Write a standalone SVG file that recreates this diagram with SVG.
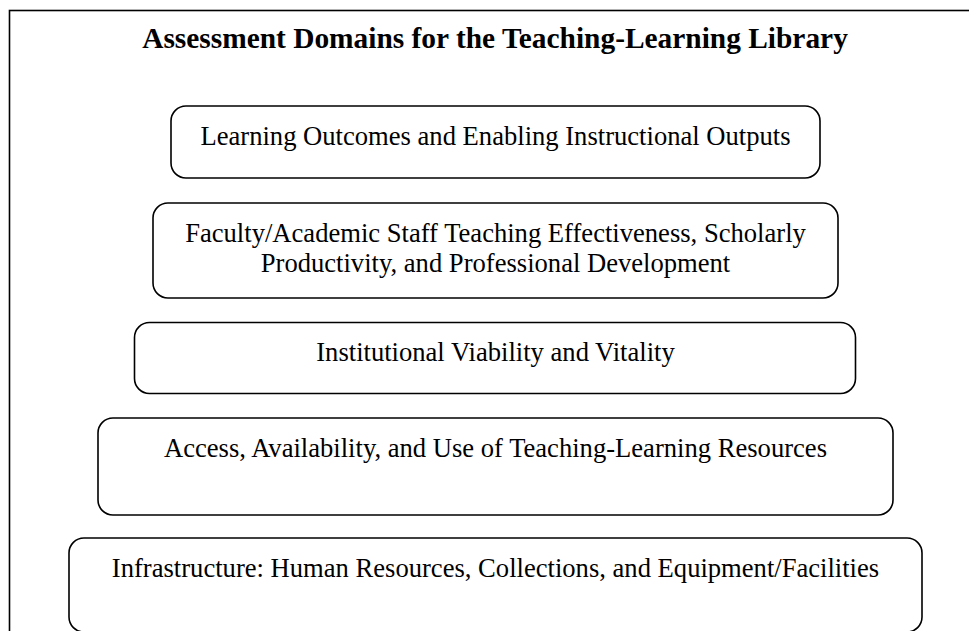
<svg xmlns="http://www.w3.org/2000/svg" width="969" height="631" viewBox="0 0 969 631">
  <style>
    .frame { fill: none; stroke: #000; stroke-width: 1.6; }
    .box { fill: #fff; stroke: #000; stroke-width: 1.6; }
    .title { font-family: "Liberation Serif", "Times New Roman", serif; font-size: 29.4px; font-weight: bold; fill: #000; text-anchor: middle; }
    .label { font-family: "Liberation Serif", "Times New Roman", serif; font-size: 26.6px; fill: #000; text-anchor: middle; }
  </style>
  <rect x="0" y="0" width="969" height="631" fill="#fff"/>
  <rect class="frame" x="9.5" y="10.5" width="990" height="700"/>
  <text class="title" x="495" y="48">Assessment Domains for the Teaching-Learning Library</text>
  <g id="node-outcomes">
    <rect class="box" x="171" y="106" width="649" height="72" rx="15" ry="15"/>
    <text class="label" x="495.5" y="145">Learning Outcomes and Enabling Instructional Outputs</text>
  </g>
  <g id="node-faculty">
    <rect class="box" x="153" y="203" width="685" height="95" rx="15" ry="15"/>
    <text class="label" x="495.5" y="242">Faculty/Academic Staff Teaching Effectiveness, Scholarly</text>
    <text class="label" x="495.5" y="272">Productivity, and Professional Development</text>
  </g>
  <g id="node-institutional">
    <rect class="box" x="134.5" y="322.5" width="721" height="71" rx="15" ry="15"/>
    <text class="label" x="495.5" y="361">Institutional Viability and Vitality</text>
  </g>
  <g id="node-access">
    <rect class="box" x="98" y="418" width="795" height="97" rx="15" ry="15"/>
    <text class="label" x="495.5" y="457">Access, Availability, and Use of Teaching-Learning Resources</text>
  </g>
  <g id="node-infrastructure">
    <rect class="box" x="69" y="538" width="853" height="94" rx="15" ry="15"/>
    <text class="label" x="495.5" y="577">Infrastructure: Human Resources, Collections, and Equipment/Facilities</text>
  </g>
  <g id="connectors"></g>
</svg>
